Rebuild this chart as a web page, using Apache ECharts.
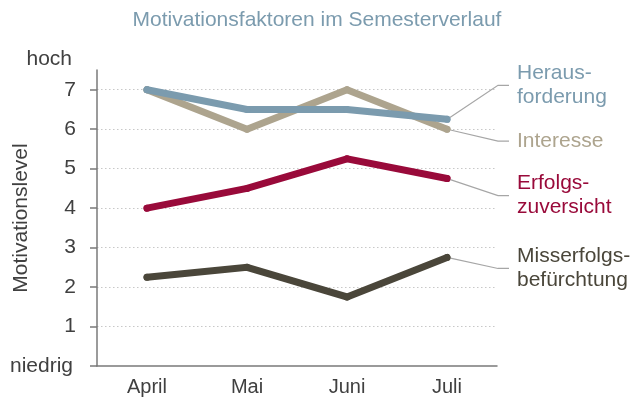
<!DOCTYPE html>
<html><head><meta charset="utf-8">
<script src="https://cdn.jsdelivr.net/npm/echarts@6/dist/echarts.min.js"></script>
<style>html,body{margin:0;padding:0;background:#fff}#c{width:634px;height:401px}</style>
</head><body><div id="c"></div>
<script>
const categories = ['April', 'Mai', 'Juni', 'Juli'];
const herausforderung = [7, 6.5, 6.5, 6.25];
const interesse = [7, 6, 7, 6];
const erfolgszuversicht = [4, 4.5, 5.25, 4.75];
const misserfolgsbefuerchtung = [2.25, 2.5, 1.75, 2.75];
const seriesNames = ['Heraus-\nforderung', 'Interesse', 'Erfolgs-\nzuversicht', 'Misserfolgs-\nbefürchtung'];
const yTickValues = [0, 1, 2, 3, 4, 5, 6, 7];
const gridLineValues = [1, 2, 3, 4, 5, 6, 7];
const colors = ['#7b9bae', '#ada48e', '#990a3a', '#4a463a'];
const labelOffsets = [-34, 12, 17, 11];

const chart = echarts.init(document.getElementById('c'));
const font = 'Liberation Sans';

function makeSeries(name, vals, idx) {
  const data = vals.map((v, i) => i === vals.length - 1 ? {
    value: v,
    label: { show: true }
  } : v);
  const s = {
    type: 'line',
    name: name,
    data: data,
    symbol: 'circle',
    symbolSize: 7,
    showSymbol: true,
    clip: false,
    z: idx === 0 ? 5 : 4 - idx,
    lineStyle: { color: colors[idx], width: 7, cap: 'round', join: 'miter' },
    itemStyle: { color: colors[idx] },
    emphasis: { disabled: true },
    label: {
      show: false,
      formatter: name,
      color: colors[idx],
      fontFamily: font,
      fontSize: 21,
      lineHeight: 24,
      align: 'left',
      verticalAlign: 'middle',
      padding: [0, 0, 0, 8]
    },
    labelLine: { show: true, length2: 11, minTurnAngle: 0, lineStyle: { color: '#a6a6a6', width: 1.2 } },
    labelLayout: function (p) {
      const cx = p.rect.x + p.rect.width / 2;
      const cy = p.rect.y + p.rect.height / 2;
      return {
        x: cx + 62, y: cy + labelOffsets[idx], align: 'left', verticalAlign: 'middle'
      };
    }
  };
  if (idx === 3) {
    s.markLine = {
      silent: true, symbol: 'none', z: 0,
      label: { show: false },
      lineStyle: { color: '#c8c8c8', type: [1.5, 2.5], width: 1.2 },
      data: gridLineValues.map(v => ({ yAxis: v }))
    };
  }
  return s;
}

chart.setOption({
  animation: false,
  title: {
    text: 'Motivationsfaktoren im Semesterverlauf',
    left: 'center', top: 5,
    textStyle: { color: '#7b9bae', fontFamily: font, fontSize: 21, fontWeight: 'normal' }
  },
  grid: { left: 97, right: 137, top: 70, bottom: 35, outerBoundsMode: 'none', containLabel: false },
  graphic: [{
    type: 'text', right: 562, top: 49,
    style: { text: 'hoch', fill: '#404040', font: '21px ' + font }
  }],
  xAxis: {
    type: 'category', data: categories, boundaryGap: true,
    axisLine: { lineStyle: { color: '#7a7a7a', width: 1.5 } },
    axisTick: { alignWithLabel: true, length: 4, lineStyle: { color: '#7a7a7a', width: 1.5 } },
    axisLabel: { color: '#404040', fontFamily: font, fontSize: 20, margin: 11 }
  },
  yAxis: {
    type: 'value', min: 0, max: 7.5, interval: 0.5,
    name: 'Motivationslevel', nameLocation: 'middle', nameGap: 65, nameMoveOverlap: false,
    nameTextStyle: { color: '#404040', fontFamily: font, fontSize: 21 },
    axisLine: { show: true, lineStyle: { color: '#7a7a7a', width: 1.5 } },
    axisTick: { show: true, length: 7, customValues: yTickValues, lineStyle: { color: '#7a7a7a', width: 1.5 } },
    axisLabel: {
      customValues: yTickValues,
      color: '#404040', fontFamily: font, fontSize: 21, margin: 21,
      formatter: v => v === 0 ? '{s|niedrig}' : String(v),
      rich: { s: { fontSize: 21, color: '#404040', fontFamily: font, padding: [0, 3, 0, 0] } }
    },
    splitLine: { show: false }
  },
  series: [
    makeSeries(seriesNames[0], herausforderung, 0),
    makeSeries(seriesNames[1], interesse, 1),
    makeSeries(seriesNames[2], erfolgszuversicht, 2),
    makeSeries(seriesNames[3], misserfolgsbefuerchtung, 3)
  ]
});
</script></body></html>
